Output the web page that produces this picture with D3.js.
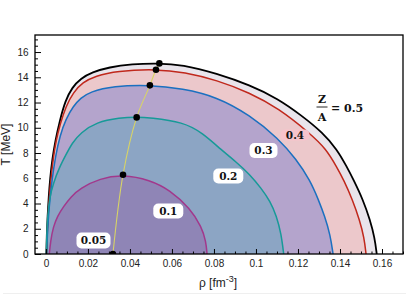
<!DOCTYPE html>
<html>
<head>
<meta charset="utf-8">
<script src="https://cdn.jsdelivr.net/npm/d3@7"></script>
<style>
  html, body { margin: 0; padding: 0; background: #fff; }
  svg { display: block; }
</style>
</head>
<body>
<svg id="chart" width="409" height="300"></svg>
<script>
// ---------------- DATA ----------------
const zOverA = [0.5, 0.4, 0.3, 0.2, 0.1];
// boundary curves, [rho (fm^-3), T (MeV)]
const curve05 = [[0.0002,0],[0.0004,1.5],[0.0008,3],[0.0013,4.5],[0.002,6],[0.003,7.5],[0.0045,9],[0.0065,10.5],[0.0092,12.15],[0.0125,13.2],[0.0165,13.9],[0.022,14.4],[0.03,14.8],[0.041,15.05],[0.053,15.12],[0.065,15.0],[0.0813,14.3],[0.0971,13.38],[0.1105,12.3],[0.1215,11.0],[0.1319,9.6],[0.1385,8.3],[0.1433,6.9],[0.1465,5.86],[0.151,4.28],[0.1543,2.7],[0.1565,1.3],[0.1575,0]];
const curve04 = [[0.0003,0],[0.0006,1.5],[0.001,3],[0.0016,4.5],[0.0024,6],[0.0034,7.5],[0.0048,9],[0.0068,10.3],[0.0095,11.7],[0.013,12.8],[0.0175,13.6],[0.0235,14.1],[0.0337,14.5],[0.0524,14.65],[0.066,14.4],[0.0813,13.78],[0.0971,12.77],[0.1105,11.56],[0.1257,9.56],[0.1335,8.3],[0.1384,6.9],[0.1418,5.86],[0.146,4.28],[0.1493,2.7],[0.1515,1.3],[0.1524,0]];
const curve03 = [[0.0003,0],[0.0007,1.5],[0.0012,3],[0.002,4.5],[0.003,6],[0.0045,7.7],[0.0067,9.4],[0.0095,10.7],[0.013,11.7],[0.0165,12.35],[0.021,12.85],[0.032,13.3],[0.0495,13.4],[0.065,13.1],[0.0813,12.46],[0.0971,11.0],[0.1106,9.16],[0.1192,7.5],[0.1257,5.86],[0.1298,4.28],[0.1327,3.0],[0.1354,1.5],[0.1367,0]];
const curve02 = [[0.0002,0],[0.0004,1.5],[0.0008,3],[0.0018,4.5],[0.0035,5.6],[0.0065,6.9],[0.0095,7.85],[0.0125,8.8],[0.0165,9.6],[0.024,10.45],[0.0352,10.8],[0.0432,10.85],[0.0495,10.8],[0.0654,10.45],[0.0745,9.6],[0.0836,8.23],[0.0905,7.3],[0.0971,6.3],[0.1025,5.2],[0.1067,4.2],[0.1098,3.0],[0.112,1.6],[0.1132,0]];
const curve01 = [[0.0016,0],[0.0022,1.0],[0.0035,2.16],[0.0055,3.0],[0.0083,3.75],[0.012,4.55],[0.0162,5.2],[0.0257,5.99],[0.0367,6.3],[0.0495,5.86],[0.059,5.07],[0.0686,3.62],[0.0741,2.16],[0.0762,1.0],[0.0767,0]];
// critical points
const criticalRho = [0.0319, 0.0367, 0.0432, 0.0495, 0.0524, 0.054];
const criticalT   = [0.0,    6.28,   10.82,  13.36,  14.6,   15.1];
// ticks
const xTickValues = [0, 0.02, 0.04, 0.06, 0.08, 0.1, 0.12, 0.14, 0.16];
const xTickLabels = ["0", "0.02", "0.04", "0.06", "0.08", "0.1", "0.12", "0.14", "0.16"];
const yTickValues = [0, 2, 4, 6, 8, 10, 12, 14, 16];
const yTickLabels = ["0", "2", "4", "6", "8", "10", "12", "14", "16"];
const curveLabels = ["0.05", "0.1", "0.2", "0.3", "0.4"];

// ---------------- STYLE / LAYOUT ----------------
const curves = [curve05, curve04, curve03, curve02, curve01];
const fillColors = ["#e9e4eb", "#ecc8cb", "#b4a4cc", "#8ca5c4", "#8f85b6"];
const lineColors = ["#000000", "#c0281c", "#1b70c0", "#179a98", "#a2388c"];
const lineWidths = [1.8, 1.5, 1.5, 1.5, 1.5];
const labelLayout = [
  {cx: 93.5, cy: 240.5, w: 34, h: 16, bg: "#ffffff"},
  {cx: 168.3, cy: 211, w: 30, h: 15, bg: "#ffffff"},
  {cx: 228.3, cy: 176, w: 30, h: 15, bg: "#ffffff"},
  {cx: 263.5, cy: 150.5, w: 28, h: 15, bg: "#ffffff"},
  {cx: 295, cy: 135, w: 29, h: 11, bg: "#f7c3cc"}
];

const L = 35, R = 403, T0 = 35, B = 254;
const svg = d3.select("#chart");
const x = d3.scaleLinear().domain([-0.0052, 0.17]).range([L, R]);
const y = d3.scaleLinear().domain([0, 17.35]).range([B, T0]);

// faint page line
svg.append("line").attr("x1", 3).attr("x2", 406).attr("y1", 293.5).attr("y2", 293.5)
  .attr("stroke", "#efefef").attr("stroke-width", 1);

svg.append("clipPath").attr("id", "clip").append("rect")
  .attr("x", L).attr("y", T0).attr("width", R - L).attr("height", B - T0);

const g = svg.append("g").attr("clip-path", "url(#clip)");
const line = d3.line().x(d => x(d[0])).y(d => y(d[1])).curve(d3.curveBasis);
const critLine = d3.line().x(d => x(d[0])).y(d => y(d[1])).curve(d3.curveCatmullRom.alpha(0.5));

curves.forEach((c, i) => {
  g.append("path").attr("d", line(c) + "Z").attr("fill", fillColors[i]).attr("stroke", "none");
});
curves.forEach((c, i) => {
  g.append("path").attr("d", line(c)).attr("fill", "none")
    .attr("stroke", lineColors[i]).attr("stroke-width", lineWidths[i]);
});

// critical line + points
const crit = criticalRho.map((r, i) => [r, criticalT[i]]);
g.append("path").attr("d", critLine(crit)).attr("fill", "none")
  .attr("stroke", "#d8d466").attr("stroke-width", 1.1);
g.selectAll("circle.crit").data(crit).join("circle").attr("class", "crit")
  .attr("cx", d => x(d[0])).attr("cy", d => y(d[1])).attr("r", 3.3).attr("fill", "#000");

// curve labels
labelLayout.forEach((lb, i) => {
  svg.append("rect").attr("x", lb.cx - lb.w / 2).attr("y", lb.cy - lb.h / 2)
    .attr("width", lb.w).attr("height", lb.h).attr("rx", 5).attr("ry", 5).attr("fill", lb.bg);
  svg.append("text").attr("x", lb.cx).attr("y", lb.cy).attr("dy", "0.36em")
    .attr("text-anchor", "middle").attr("font-family", "DejaVu Serif")
    .attr("font-weight", "bold").attr("font-size", 10.5).attr("fill", "#111")
    .text(curveLabels[i]);
});

// Z/A = 0.5
const za = svg.append("g").attr("font-family", "DejaVu Serif").attr("font-weight", "bold")
  .attr("font-size", 11).attr("fill", "#111");
za.append("text").attr("x", 322).attr("y", 102.5).attr("text-anchor", "middle").text("Z");
za.append("line").attr("x1", 316.5).attr("x2", 327.5).attr("y1", 107).attr("y2", 107)
  .attr("stroke", "#111").attr("stroke-width", 0.9);
za.append("text").attr("x", 322).attr("y", 120.5).attr("text-anchor", "middle").text("A");
za.append("text").attr("x", 331).attr("y", 111.5).text("= 0.5");

// axes
const tickFont = "Liberation Sans, Arial, sans-serif";
svg.append("g").attr("transform", `translate(0,${B})`)
  .call(d3.axisBottom(x).tickValues(xTickValues).tickFormat((d, i) => xTickLabels[i])
    .tickSizeInner(-5).tickSizeOuter(0).tickPadding(6));
const xMinor = d3.range(0, 0.1701, 0.005).filter(v => !xTickValues.some(t => Math.abs(t - v) < 1e-9));
svg.append("g").attr("transform", `translate(0,${B})`)
  .call(d3.axisBottom(x).tickValues(xMinor).tickFormat("").tickSizeInner(-2.5).tickSizeOuter(0));
svg.append("g").attr("transform", `translate(${L},0)`)
  .call(d3.axisLeft(y).tickValues(yTickValues).tickFormat((d, i) => yTickLabels[i])
    .tickSizeInner(-6).tickSizeOuter(0).tickPadding(6.5));
const yMinor = d3.range(0, 17.3, 0.5).filter(v => !yTickValues.includes(v));
svg.append("g").attr("transform", `translate(${L},0)`)
  .call(d3.axisLeft(y).tickValues(yMinor).tickFormat("").tickSizeInner(-3).tickSizeOuter(0));
svg.selectAll(".domain").remove();
svg.selectAll(".tick line").attr("stroke", "#000").attr("stroke-width", 1);
svg.selectAll(".tick text").attr("font-family", tickFont).attr("font-size", 10).attr("fill", "#222");

// frame
svg.append("rect").attr("x", L).attr("y", T0).attr("width", R - L).attr("height", B - T0)
  .attr("fill", "none").attr("stroke", "#000").attr("stroke-width", 1.3);

// axis titles
svg.append("text").attr("transform", "translate(10,144.5) rotate(-90)")
  .attr("text-anchor", "middle").attr("font-family", tickFont).attr("font-size", 12)
  .attr("fill", "#222").text("T [MeV]");
const xt = svg.append("text").attr("x", 218).attr("y", 287).attr("text-anchor", "middle")
  .attr("font-family", tickFont).attr("font-size", 12).attr("fill", "#222");
xt.append("tspan").text("ρ [fm");
xt.append("tspan").attr("font-size", 9).attr("dy", -5).text("-3");
xt.append("tspan").attr("dy", 5).text("]");
</script>
</body>
</html>
